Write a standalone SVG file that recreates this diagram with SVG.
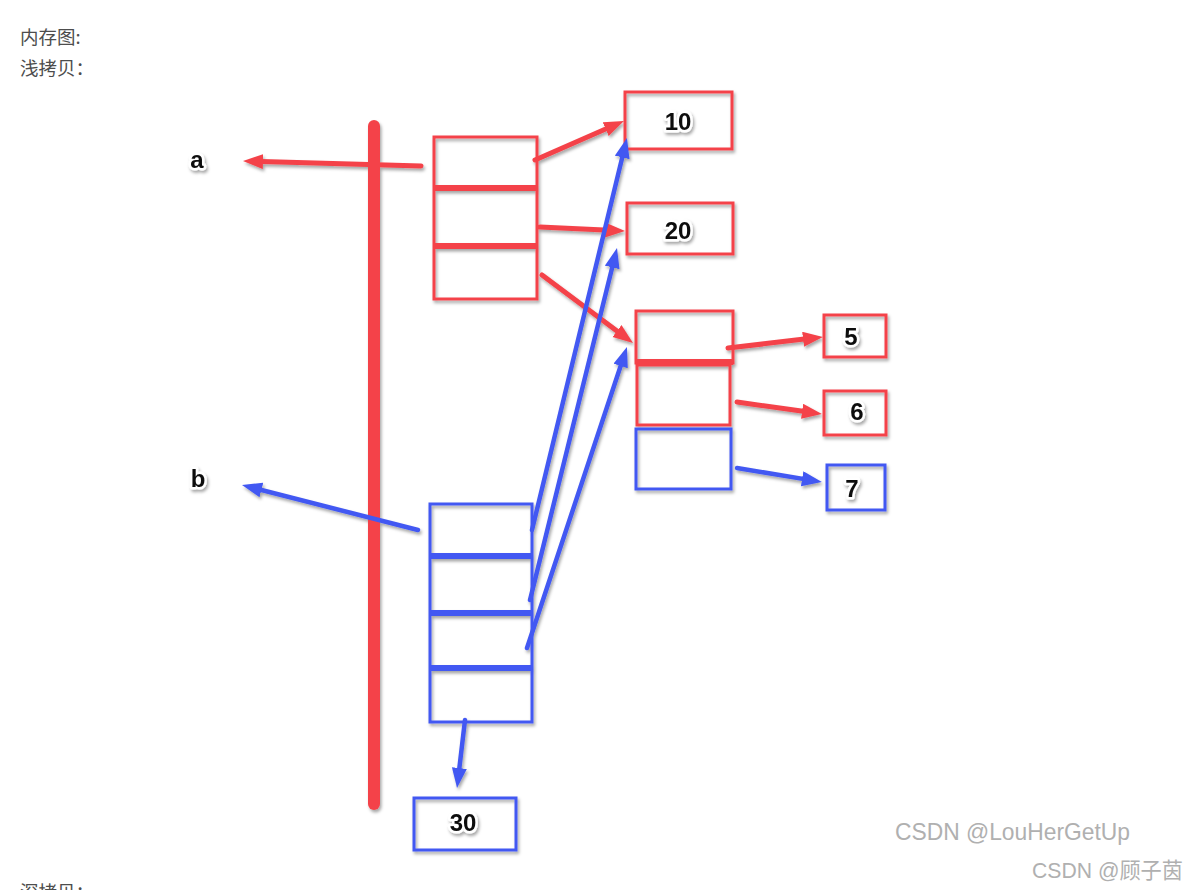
<svg xmlns="http://www.w3.org/2000/svg" width="1187" height="890" viewBox="0 0 1187 890">
<style>
.hdr{font-family:"Noto Sans CJK SC","Liberation Sans",sans-serif;font-size:18.5px;fill:#4d4d4d}
.wm{font-family:"Liberation Sans","Noto Sans CJK SC",sans-serif;fill:#b0b0b0}
.num{font-family:"Liberation Sans",sans-serif;font-size:24px;font-weight:bold;fill:#111;text-anchor:middle;stroke:#fff;stroke-width:5px;stroke-linejoin:round;paint-order:stroke}
.rbox{fill:none;stroke:#F4434A;stroke-width:3}
.bbox{fill:none;stroke:#4258F2;stroke-width:3}
.rdiv{stroke:#F4434A;stroke-width:6}
.bdiv{stroke:#4258F2;stroke-width:6}
.ra{stroke:#F4434A;stroke-width:5;stroke-linecap:round;fill:none;marker-end:url(#mr)}
.ba{stroke:#4258F2;stroke-width:4.5;stroke-linecap:round;fill:none;marker-end:url(#mb)}
</style>
<defs>
<filter id="sh" x="-20%" y="-20%" width="140%" height="140%">
<feDropShadow dx="1.5" dy="2.5" stdDeviation="1.8" flood-color="#000" flood-opacity="0.35"/>
</filter>
<marker id="mr" markerUnits="userSpaceOnUse" markerWidth="20" markerHeight="16" refX="10" refY="7.5" orient="auto">
<path d="M0,0 L20,7.5 L0,15 z" fill="#F4434A"/>
</marker>
<marker id="mb" markerUnits="userSpaceOnUse" markerWidth="20" markerHeight="16" refX="10" refY="7.5" orient="auto">
<path d="M0,0 L20,7.5 L0,15 z" fill="#4258F2"/>
</marker>
</defs>
<rect width="1187" height="890" fill="#fff"/>
<text class="hdr" x="20" y="44">内存图:</text>
<text class="hdr" x="20" y="75">浅拷贝：</text>
<text class="hdr" x="20" y="899">深拷贝：</text>

<g filter="url(#sh)">
<g id="stack-line">
<line x1="374" y1="126" x2="374" y2="804" stroke="#F4434A" stroke-width="12" stroke-linecap="round"/>
</g>

<g id="label-a"><text class="num" x="197" y="168">a</text></g>
<g id="label-b"><text class="num" x="198" y="487">b</text></g>

<g id="obj-a">
<rect class="rbox" x="434" y="137" width="103" height="162"/>
<line class="rdiv" x1="434" y1="188" x2="537" y2="188"/>
<line class="rdiv" x1="434" y1="246" x2="537" y2="246"/>
</g>

<g id="val-10"><rect class="rbox" x="625" y="92" width="107" height="57"/><text class="num" x="678" y="130">10</text></g>
<g id="val-20"><rect class="rbox" x="627" y="203" width="106" height="51"/><text class="num" x="678" y="239">20</text></g>

<g id="list">
<rect class="rbox" x="636" y="311" width="97" height="52"/>
<line class="rdiv" x1="636" y1="362" x2="733" y2="362"/>
<rect class="rbox" x="637" y="365" width="93" height="60"/>
<rect class="bbox" x="636" y="429" width="95" height="60"/>
</g>

<g id="val-5"><rect class="rbox" x="824" y="315" width="62" height="42"/><text class="num" x="851" y="345">5</text></g>
<g id="val-6"><rect class="rbox" x="824" y="391" width="62" height="44"/><text class="num" x="857" y="420">6</text></g>
<g id="val-7"><rect class="bbox" x="827" y="465" width="58" height="45"/><text class="num" x="852" y="497">7</text></g>

<g id="obj-b">
<rect class="bbox" x="430" y="504" width="102" height="218"/>
<line class="bdiv" x1="430" y1="556" x2="532" y2="556"/>
<line class="bdiv" x1="430" y1="613" x2="532" y2="613"/>
<line class="bdiv" x1="430" y1="668" x2="532" y2="668"/>
</g>

<g id="val-30"><rect class="bbox" x="414" y="798" width="102" height="52"/><text class="num" x="463" y="831">30</text></g>

<g id="connectors">
<line class="ra" x1="421" y1="166" x2="253" y2="161.3"/>
<line class="ra" x1="535" y1="160" x2="614.8" y2="125"/>
<line class="ra" x1="540" y1="227" x2="615" y2="230.5"/>
<line class="ra" x1="542" y1="275" x2="625" y2="337"/>
<line class="ra" x1="728" y1="348" x2="813" y2="338.1"/>
<line class="ra" x1="737" y1="402" x2="812" y2="412.6"/>
<line class="ba" x1="737" y1="468" x2="812" y2="480.4"/>
<line class="ba" x1="418" y1="530" x2="251.7" y2="487.5"/>
<line class="ba" x1="532" y1="530" x2="624.6" y2="147.7"/>
<line class="ba" x1="530" y1="600" x2="614.6" y2="257.7"/>
<line class="ba" x1="527" y1="648" x2="623.8" y2="356.5"/>
<line class="ba" x1="465" y1="720" x2="458.2" y2="778"/>
</g>
</g>

<text class="wm" x="895" y="840" font-size="24" textLength="235" lengthAdjust="spacingAndGlyphs">CSDN @LouHerGetUp</text>
<text class="wm" x="1032" y="878" font-size="22" textLength="151" lengthAdjust="spacingAndGlyphs">CSDN @顾子茵</text>
</svg>
